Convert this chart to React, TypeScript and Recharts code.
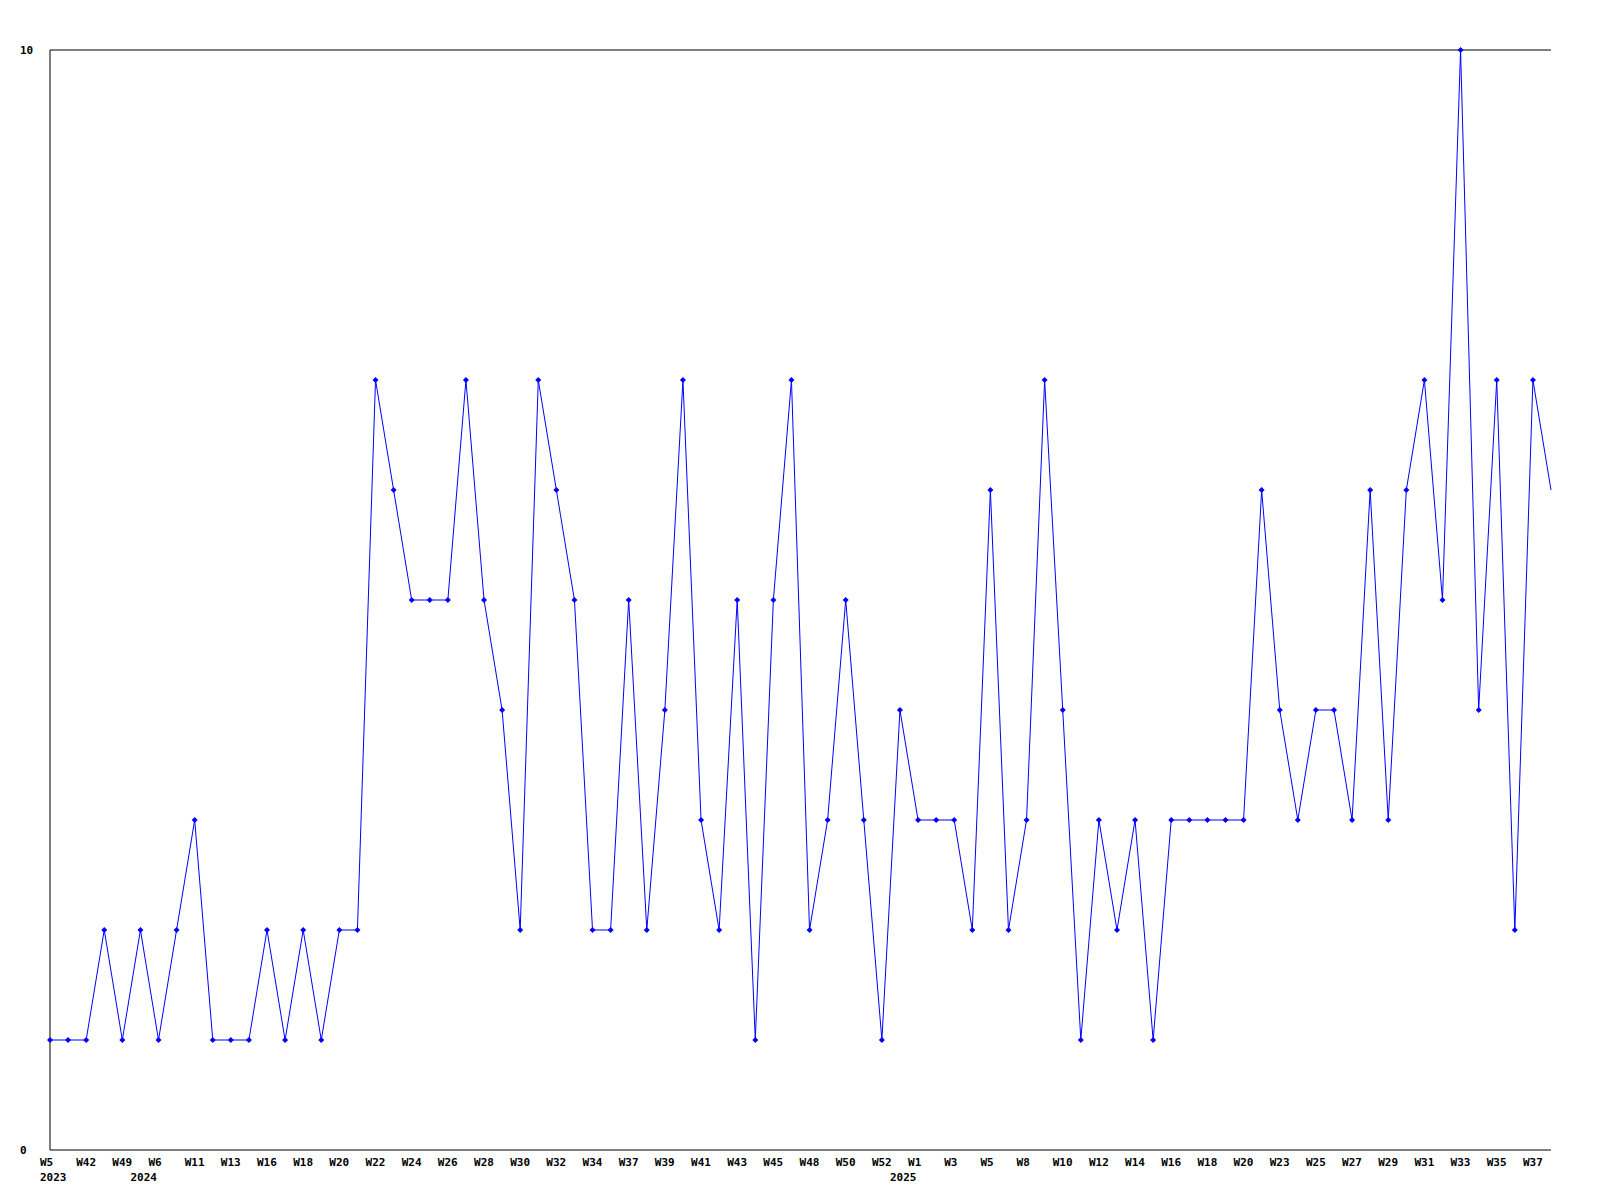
import React from 'react';
import { LineChart, Line, XAxis, YAxis, ReferenceLine } from 'recharts';

// one entry per week with data (only every other label is drawn)
const weeks = [
  'W5', 'W40', 'W42', 'W45', 'W49', 'W3', 'W6', 'W9', 'W11', 'W12',
  'W13', 'W15', 'W16', 'W17', 'W18', 'W19', 'W20', 'W21', 'W22', 'W23',
  'W24', 'W25', 'W26', 'W27', 'W28', 'W29', 'W30', 'W31', 'W32', 'W33',
  'W34', 'W36', 'W37', 'W38', 'W39', 'W40', 'W41', 'W42', 'W43', 'W44',
  'W45', 'W47', 'W48', 'W49', 'W50', 'W51', 'W52', 'W53', 'W1', 'W2',
  'W3', 'W4', 'W5', 'W7', 'W8', 'W9', 'W10', 'W11', 'W12', 'W13',
  'W14', 'W15', 'W16', 'W17', 'W18', 'W19', 'W20', 'W22', 'W23', 'W24',
  'W25', 'W26', 'W27', 'W28', 'W29', 'W30', 'W31', 'W32', 'W33', 'W34',
  'W35', 'W36', 'W37', 'W38',
];

// year shown under the first week of that year
const years = ['2023', '2024', '2025'];
const yearStartIndex = [0, 5, 47];

const counts = [
  1, 1, 1, 2, 1, 2, 1, 2, 3, 1,
  1, 1, 2, 1, 2, 1, 2, 2, 7, 6,
  5, 5, 5, 7, 5, 4, 2, 7, 6, 5,
  2, 2, 5, 2, 4, 7, 3, 2, 5, 1,
  5, 7, 2, 3, 5, 3, 1, 4, 3, 3,
  3, 2, 6, 2, 3, 7, 4, 1, 3, 2,
  3, 1, 3, 3, 3, 3, 3, 6, 4, 3,
  4, 4, 3, 6, 3, 6, 7, 5, 10, 4,
  7, 2, 7, 6,
];

const data = weeks.map((w, i) => ({ idx: i, week: w, value: counts[i] }));

const FONT = '"DejaVu Sans Mono", "Liberation Mono", monospace';

const WeekTick = (props: any) => {
  const { x, y, payload } = props;
  const i = payload.value as number;
  const yi = yearStartIndex.indexOf(i);
  return (
    <g>
      {i % 2 === 0 && (
        <text x={x - 10} y={y + 8} textAnchor="start" fontSize={11} fontWeight="bold" fontFamily={FONT} fill="#000">
          {weeks[i]}
        </text>
      )}
      {yi >= 0 && (
        <text x={x - 10} y={y + 23} textAnchor="start" fontSize={11} fontWeight="bold" fontFamily={FONT} fill="#000">
          {years[yi]}
        </text>
      )}
    </g>
  );
};

const CountTick = (props: any) => {
  const { y, payload } = props;
  return (
    <text x={20} y={y + 4} textAnchor="start" fontSize={11} fontWeight="bold" fontFamily={FONT} fill="#000">
      {payload.value}
    </text>
  );
};

const Diamond = (props: any) => {
  const { cx, cy, index } = props;
  if (index === counts.length - 1) return <g key={`d-${index}`} />;
  return (
    <polygon
      key={`d-${index}`}
      points={`${cx},${cy - 3} ${cx + 3},${cy} ${cx},${cy + 3} ${cx - 3},${cy}`}
      fill="#0000ff"
      stroke="none"
    />
  );
};

export default function App() {
  return (
    <div style={{ position: 'absolute', left: 0, top: 0, width: 1600, height: 1200, background: '#fff' }}>
      <LineChart width={1600} height={1200} data={data} margin={{ top: 50, right: 49, left: 20, bottom: 0 }}>
        <XAxis
          dataKey="idx"
          type="number"
          domain={[0, counts.length - 1]}
          ticks={data.map((d) => d.idx)}
          interval={0}
          tick={<WeekTick />}
          tickLine={false}
          axisLine={{ stroke: '#000', strokeWidth: 1 }}
          height={50}
        />
        <YAxis
          domain={[0, 10]}
          ticks={[0, 10]}
          tick={<CountTick />}
          tickLine={false}
          axisLine={{ stroke: '#000', strokeWidth: 1 }}
          width={30}
        />
        <ReferenceLine y={10} stroke="#000" strokeWidth={1} />
        <Line
          type="linear"
          dataKey="value"
          stroke="#0000ff"
          strokeWidth={1}
          dot={<Diamond />}
          activeDot={false}
          isAnimationActive={false}
        />
      </LineChart>
    </div>
  );
}
